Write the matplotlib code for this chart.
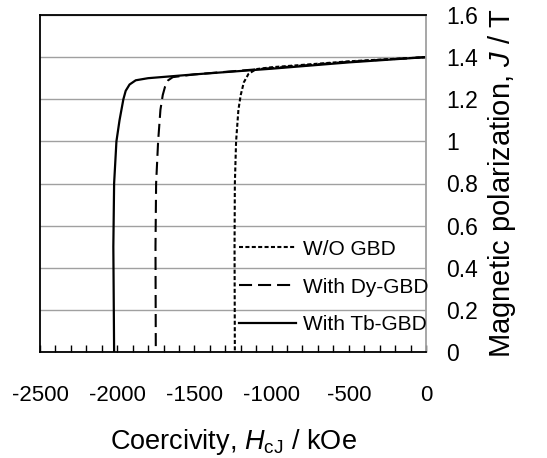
import matplotlib
matplotlib.use("Agg")
import matplotlib.pyplot as plt
from matplotlib.ticker import MultipleLocator

plt.rcParams['font.family'] = ['Liberation Sans', 'DejaVu Sans']
plt.rcParams['mathtext.fontset'] = 'custom'
plt.rcParams['mathtext.it'] = 'Liberation Sans:italic'
plt.rcParams['mathtext.rm'] = 'Liberation Sans'
plt.rcParams['lines.scale_dashes'] = False
plt.rcParams['axes.unicode_minus'] = False

# Data (H in kOe as labelled, J in T)
h_wo = [0, -500, -1000, -1100, -1150, -1180, -1200, -1215, -1230, -1238, -1240, -1238]
j_wo = [1.40, 1.38, 1.352, 1.343, 1.32, 1.28, 1.22, 1.15, 1.00, 0.80, 0.50, 0.0]

h_dy = [0, -500, -1000, -1500, -1640, -1670, -1690, -1705, -1720, -1735, -1748, -1752, -1750]
j_dy = [1.40, 1.378, 1.348, 1.318, 1.305, 1.29, 1.26, 1.22, 1.15, 1.00, 0.80, 0.50, 0.0]

h_tb = [0, -500, -1000, -1500, -1800, -1880, -1920, -1945, -1960, -1985, -2005, -2020, -2025, -2022, -2020]
j_tb = [1.40, 1.375, 1.345, 1.318, 1.300, 1.29, 1.27, 1.24, 1.20, 1.10, 1.00, 0.80, 0.50, 0.20, 0.0]

labels = ["W/O GBD", "With Dy-GBD", "With Tb-GBD"]

fig = plt.figure(figsize=(5.47, 4.58), dpi=100)
ax = fig.add_axes([40/547, 1-352/458, 386/547, 337/458])

l1, = ax.plot(h_wo, j_wo, color='black', lw=1.5, label=labels[0])
l1.set_dashes([2.9, 1.7])
l2, = ax.plot(h_dy, j_dy, color='black', lw=1.5, label=labels[1])
l2.set_dashes([9.4, 4.3])
l3, = ax.plot(h_tb, j_tb, color='black', lw=1.6, label=labels[2])

ax.set_xlim(-2500, 0)
ax.set_ylim(0, 1.6)
ax.xaxis.set_major_locator(MultipleLocator(500))
ax.xaxis.set_minor_locator(MultipleLocator(100))
ax.set_yticks([0, 0.2, 0.4, 0.6, 0.8, 1.0, 1.2, 1.4, 1.6])
ax.set_yticklabels(['0', '0.2', '0.4', '0.6', '0.8', '1', '1.2', '1.4', '1.6'])

ax.grid(axis='y', color='#a0a0a0', lw=1.0)
ax.set_axisbelow(True)

ax.tick_params(axis='x', which='both', direction='in', length=5, width=1, pad=24, labelsize=16, top=False)
ax.tick_params(axis='y', which='both', left=False, right=False, labelleft=False, labelright=True,
               pad=11, labelsize=16.5)

for s in ['left', 'top', 'bottom']:
    ax.spines[s].set_color('black')
    ax.spines[s].set_linewidth(1.3)
ax.spines['right'].set_color('#a0a0a0')
ax.spines['right'].set_linewidth(1.3)

ax.set_xlabel('Coercivity, $H$$_{\\mathrm{cJ}}$ / kOe', fontsize=19.5, labelpad=15)
ax.yaxis.set_label_position('right')
ax.set_ylabel('Magnetic polarization, $J$ / T', fontsize=21, labelpad=6)

ax.legend(loc='upper left', bbox_to_anchor=(0.5155, 0.333), frameon=False, fontsize=15,
          handlelength=2.74, handletextpad=0.34, labelspacing=0.9, borderpad=0, borderaxespad=0)

fig.savefig('out.png', dpi=100)
